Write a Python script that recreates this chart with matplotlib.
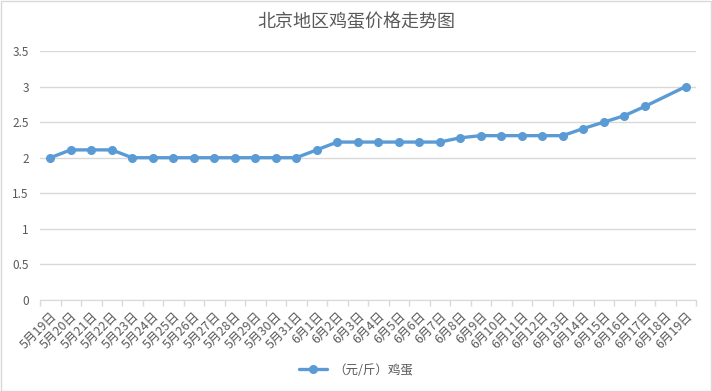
import numpy as np
import matplotlib
matplotlib.use("Agg")
import matplotlib.pyplot as plt
from matplotlib.patches import Rectangle

plt.rcParams['font.family'] = ['Noto Sans CJK SC', 'DejaVu Sans']

# 数据
dates = ["5月19日", "5月20日", "5月21日", "5月22日", "5月23日", "5月24日", "5月25日",
         "5月26日", "5月27日", "5月28日", "5月29日", "5月30日", "5月31日",
         "6月1日", "6月2日", "6月3日", "6月4日", "6月5日", "6月6日", "6月7日",
         "6月8日", "6月9日", "6月10日", "6月11日", "6月12日", "6月13日", "6月14日",
         "6月15日", "6月16日", "6月17日", "6月18日", "6月19日"]
prices = [2.0, 2.11, 2.11, 2.11, 2.0, 2.0, 2.0, 2.0, 2.0, 2.0, 2.0, 2.0, 2.0,
          2.11, 2.22, 2.22, 2.22, 2.22, 2.22, 2.22, 2.28, 2.31, 2.31, 2.31, 2.31,
          2.31, 2.41, 2.5, 2.59, 2.72, np.nan, 3.0]
series_name = "（元/斤）鸡蛋"
title = "北京地区鸡蛋价格走势图"

grey = "#595959"
light = "#D9D9D9"
blue = "#5B9BD5"

fig = plt.figure(figsize=(7.12, 3.91), dpi=100)
ax = fig.add_axes([40 / 712, 1 - 300 / 391, 656 / 712, 249 / 391])

x = np.arange(len(dates))
y = np.array(prices)
ok = ~np.isnan(y)  # 6月18日 无数据，直接连线
ax.plot(x[ok], y[ok], color=blue, lw=2.4, marker='o', markersize=5.5,
        label=series_name, solid_capstyle='round')

ax.set_xlim(-0.5, len(dates) - 0.5)
ax.set_ylim(0, 3.5)
ax.set_yticks(np.arange(0, 3.51, 0.5))
ax.set_yticklabels(["0", "0.5", "1", "1.5", "2", "2.5", "3", "3.5"])
ax.set_xticks(x)
ax.set_xticklabels(dates, rotation=45, ha='right', rotation_mode='anchor')
ax.set_xticks(np.arange(-0.5, len(dates)), minor=True)
ax.tick_params(axis='x', which='major', length=0, pad=7, labelsize=9, labelcolor=grey)
ax.tick_params(axis='x', which='minor', length=4, color=light, width=1)
ax.tick_params(axis='y', length=0, pad=8, labelsize=8.5, labelcolor=grey)

ax.grid(axis='y', color=light, lw=1)
ax.set_axisbelow(True)
for s in ['top', 'right', 'left']:
    ax.spines[s].set_visible(False)
ax.spines['bottom'].set_color(light)

fig.text(0.5, 1 - 22 / 391, title, ha='center', va='center', fontsize=13, color=grey)

fig.legend(loc='center', bbox_to_anchor=(0.5, 1 - 370 / 391), frameon=False,
           fontsize=9, labelcolor=grey, handlelength=2.2, handletextpad=0.5)

fig.patches.append(Rectangle((0.001, 0.001), 0.997, 0.997, transform=fig.transFigure,
                             fill=False, edgecolor=light, lw=1))

plt.savefig("out.png", dpi=100)
